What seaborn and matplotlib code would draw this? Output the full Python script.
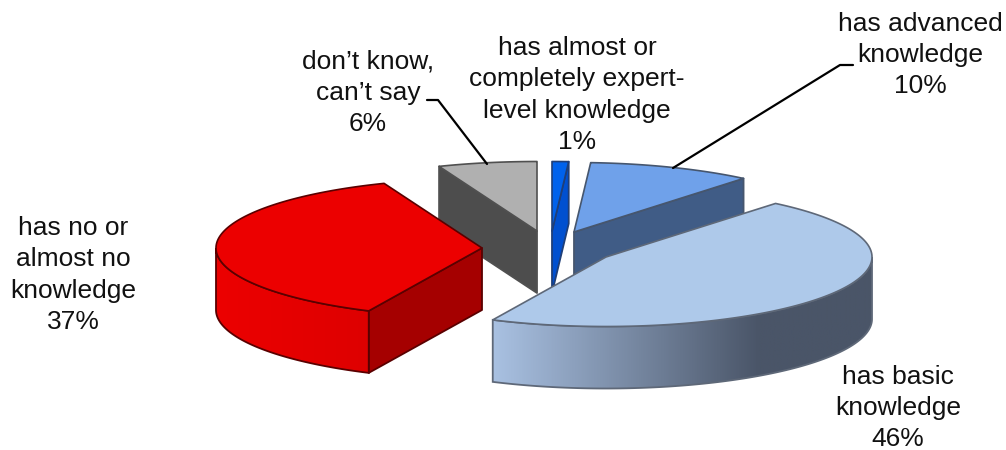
import numpy as np
import matplotlib
matplotlib.use("Agg")
import matplotlib.pyplot as plt
from matplotlib.patches import Polygon
from matplotlib.colors import LinearSegmentedColormap
import seaborn as sns

# ---- data ----
categories = ["has almost or\ncompletely expert-\nlevel knowledge",
              "has advanced\nknowledge",
              "has basic\nknowledge",
              "has no or\nalmost no\nknowledge",
              "don\u2019t know,\ncan\u2019t say"]
values = [1, 10, 46, 37, 6]

# ---- styles / layout (pixel space of the figure) ----
top_colors = ["#0062EC", "#6FA1EA", "#AEC9EA", "#EC0000", "#B0B0B0"]
face_colors = ["#0050D0", "#405C86", "#4A5568", "#A50000", "#4D4D4D"]
edge_colors = ["#1F3F78", "#46566E", "#5E6878", "#5A0000", "#505050"]
wall_grads = [["#0050D0", "#0050D0"], ["#405C86", "#405C86"],
              ["#A9C1E2", "#4A5568", "#4A5568"], ["#EC0000", "#DE0000"], ["#4D4D4D", "#4D4D4D"]]
wall_stops = [[0, 1], [0, 1], [0, 0.70, 1], [0, 1], [0, 1]]
apex_x = [552, 574, 606, 482, 537]
apex_y = [231, 232, 257, 248, 231]
RX, RY, DEPTH = 266, 69.5, 62
draw_order = [4, 0, 1, 3, 2]
label_x = [577, 920, 898, 73, 368]
label_y = [95, 55, 408, 275, 93]
leaders = [None, ([673, 840, 853], [168, 65, 65]), None, None, ([487, 438, 427], [164, 100, 100])]

sns.set_theme(style="white")
plt.rcParams["font.family"] = ["Liberation Sans", "DejaVu Sans"]

fig, ax = plt.subplots(figsize=(10.06, 4.5), dpi=100)
ax.set_position([0, 0, 1, 1])
ax.axis("off")
sns.despine(ax=ax, left=True, bottom=True)

fractions = np.array(values) / np.sum(values)
ends = np.cumsum(fractions) * 2 * np.pi
starts = ends - fractions * 2 * np.pi


def rim(i, t):
    return apex_x[i] + RX * np.sin(t), apex_y[i] - RY * np.cos(t)


for i in draw_order:
    a0, a1 = starts[i], ends[i]
    cx, cy = apex_x[i], apex_y[i]
    # visible cut faces
    for ang, vis in ((a0, np.sin(a0) < -1e-6), (a1, np.sin(a1) > 1e-6)):
        if vis:
            x, y = rim(i, ang)
            ax.fill([cx, x, x, cx], [cy, y, y + DEPTH, cy + DEPTH],
                    fc=face_colors[i], ec=edge_colors[i], lw=1.3, joinstyle="round", zorder=2)
    # outer wall with a horizontal gradient
    w0, w1 = max(a0, np.pi / 2), min(a1, 3 * np.pi / 2)
    if w1 > w0:
        ts = np.linspace(w0, w1, 180)
        xs, ys = rim(i, ts)
        outline = np.c_[np.r_[xs, xs[::-1]], np.r_[ys, ys[::-1] + DEPTH]]
        cmap = LinearSegmentedColormap.from_list("w", list(zip(wall_stops[i], wall_grads[i])))
        im = ax.imshow(np.linspace(0, 1, 500)[None, :], cmap=cmap, aspect="auto", zorder=2,
                       extent=[xs.min(), xs.max(), ys.max() + DEPTH, ys.min()])
        im.set_clip_path(Polygon(outline, transform=ax.transData))
        ax.fill(outline[:, 0], outline[:, 1], fc="none", ec=edge_colors[i], lw=1.3, zorder=2)
    # top surface
    ts = np.linspace(a0, a1, 200)
    xs, ys = rim(i, ts)
    ax.fill(np.r_[cx, xs], np.r_[cy, ys], fc=top_colors[i], ec=edge_colors[i],
            lw=1.2, joinstyle="round", zorder=2)

for i, cat in enumerate(categories):
    ax.text(label_x[i], label_y[i], f"{cat}\n{values[i]}%", ha="center", va="center",
            fontsize=19, color="#111111", linespacing=1.37, zorder=5)
    if leaders[i] is not None:
        ax.plot(leaders[i][0], leaders[i][1], color="black", lw=1.6, zorder=4)

ax.set_xlim(0, 1006)
ax.set_ylim(450, 0)
fig.savefig("out.png", dpi=100)
